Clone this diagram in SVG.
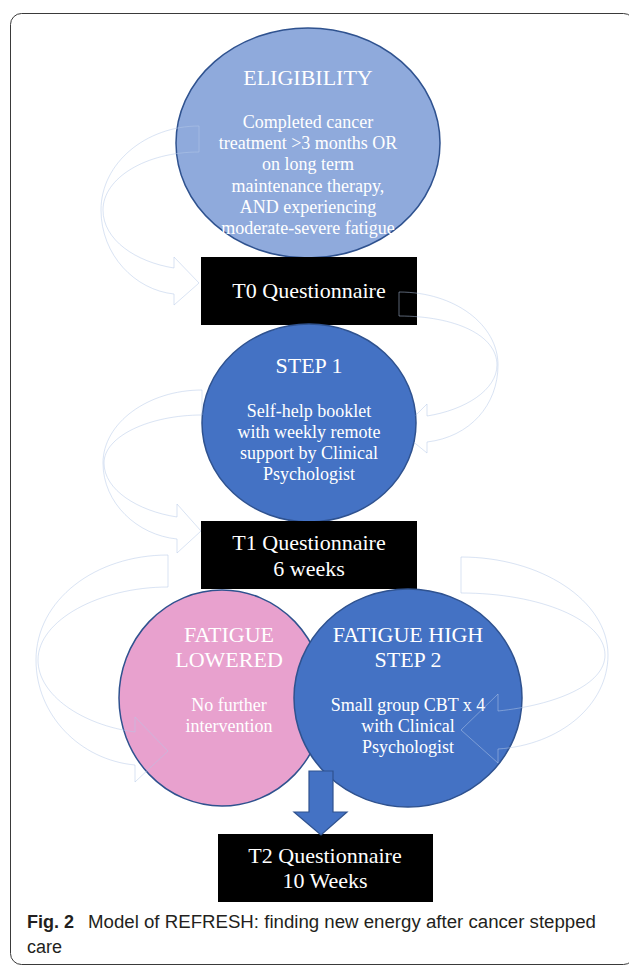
<svg xmlns="http://www.w3.org/2000/svg" width="629" height="968" viewBox="0 0 629 968">
<style>
.t{font-family:"Liberation Serif","Times New Roman",serif;fill:#fff;text-anchor:middle}
.h{font-size:22px}
.b{font-size:18px}
.box{fill:#000}
.ring{fill:none;stroke:#b4c7e7;stroke-opacity:0.5;stroke-width:1}
.cap{font-family:"Liberation Sans",Arial,sans-serif;font-size:18px;fill:#231f20}
</style>
<rect x="10.5" y="13.5" width="624" height="951" rx="11" fill="#fff" stroke="#3a3a3a" stroke-width="1"/>
<g id="eligibility">
<ellipse cx="308" cy="143" rx="132" ry="115" fill="#8faadc" stroke="#2f528f" stroke-width="1.5"/>
<text class="t h" x="308" y="85">ELIGIBILITY</text>
<text class="t b" x="308" y="128">Completed cancer</text>
<text class="t b" x="308" y="149">treatment &gt;3 months OR</text>
<text class="t b" x="308" y="170">on long term</text>
<text class="t b" x="308" y="192">maintenance therapy,</text>
<text class="t b" x="308" y="213">AND experiencing</text>
<text class="t b" x="308" y="234">moderate-severe fatigue</text>
</g>
<g id="t0">
<rect class="box" x="201" y="257" width="216" height="68"/>
<text class="t h" x="309" y="298">T0 Questionnaire</text>
</g>
<g id="step1">
<ellipse cx="309" cy="423" rx="107" ry="99" fill="#4472c4" stroke="#2f528f" stroke-width="1.5"/>
<text class="t h" x="309" y="373">STEP 1</text>
<text class="t b" x="309" y="417">Self-help booklet</text>
<text class="t b" x="309" y="438">with weekly remote</text>
<text class="t b" x="309" y="459">support by Clinical</text>
<text class="t b" x="309" y="480">Psychologist</text>
</g>
<g id="t1">
<rect class="box" x="201" y="521" width="216" height="68"/>
<text class="t h" x="309" y="550">T1 Questionnaire</text>
<text class="t h" x="309" y="576">6 weeks</text>
</g>
<g id="fatigue-lowered">
<ellipse cx="222" cy="698" rx="103" ry="108" fill="#e8a1ce" stroke="#2f528f" stroke-width="1.5"/>
<text class="t h" x="229" y="642">FATIGUE</text>
<text class="t h" x="229" y="667">LOWERED</text>
<text class="t b" x="229" y="711">No further</text>
<text class="t b" x="229" y="732">intervention</text>
</g>
<g id="fatigue-high">
<ellipse cx="408" cy="698" rx="114" ry="109" fill="#4472c4" stroke="#2f528f" stroke-width="1.5"/>
<text class="t h" x="408" y="642">FATIGUE HIGH</text>
<text class="t h" x="408" y="667">STEP 2</text>
<text class="t b" x="408" y="711">Small group CBT x 4</text>
<text class="t b" x="408" y="732">with Clinical</text>
<text class="t b" x="408" y="753">Psychologist</text>
</g>
<g id="t2">
<rect class="box" x="218" y="834" width="215" height="68"/>
<text class="t h" x="325" y="863">T2 Questionnaire</text>
<text class="t h" x="325" y="888">10 Weeks</text>
</g>
<g id="connectors">
<path class="ring" d="M199,126 C146,126 101,163 101,210 C101,255 135,290 174,294 L174,305 L199,283 L174,257 L174,268 C136,262 103,240 103,210 C103,178 146,152 199,152 Z"/>
<path class="ring" d="M415.7,415.3 L427,404 L427,416 C465,410 497,390 497,365 C497,335 455,316 399,316 L399,292 C455,292 498,325 498,365 C498,405 470,437 427,442 L427,453 L414,442.4"/>
<path class="ring" d="M202,390 C148,390 103,423 103,463 C103,503 137,535 177,539 L177,553 L201,531 L177,504 L177,517 C138,511 104,490 104,463 C104,436 150,415 202,415 Z"/>
<path class="ring" d="M168,555 C95,555 36,600 36,660 C36,715 80,760 135,765 L135,782 L168,751 L135,717 L135,732 C82,725 38,695 38,660 C38,620 100,587 168,587 Z"/>
<path class="ring" d="M461,557 C540,557 608,600 608,655 C608,705 560,745 498,749 L498,763 L461,730 L498,694 L498,711 C555,705 605,685 605,655 C605,620 540,593 461,593 Z"/>
<path d="M309,771 L333,771 L333,812 L347,812 L321,835 L294,812 L309,812 Z" fill="#4472c4" stroke="#2f528f" stroke-width="1.2"/>
</g>
<text class="cap" x="27" y="928"><tspan font-weight="bold">Fig. 2</tspan></text>
<text class="cap" x="88" y="928" textLength="508" lengthAdjust="spacingAndGlyphs">Model of REFRESH: finding new energy after cancer stepped</text>
<text class="cap" x="27" y="953">care</text>
</svg>
